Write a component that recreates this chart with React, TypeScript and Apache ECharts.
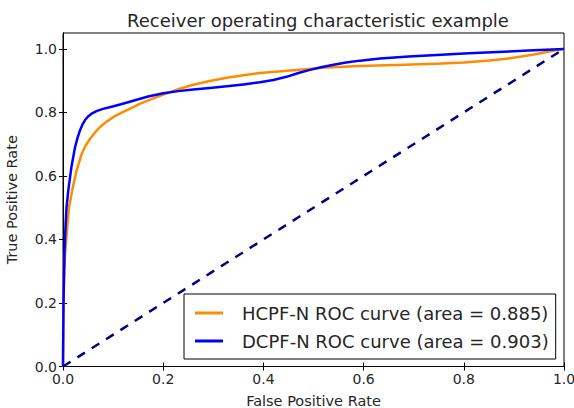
import React, { useEffect, useRef } from "react";
import * as echarts from "echarts";

const titleText = "Receiver operating characteristic example";
const xName = "False Positive Rate";
const yName = "True Positive Rate";
const tickValues = [0, 0.2, 0.4, 0.6, 0.8, 1.0];

const hcpfName = "HCPF-N ROC curve (area = 0.885)";
const hcpfPoints: [number, number][] = [
  [0, 0], [0.0005, 0.15], [0.002, 0.28], [0.004, 0.35], [0.007, 0.41], [0.012, 0.5],
  [0.019, 0.56], [0.027, 0.616], [0.037, 0.668], [0.045, 0.695], [0.054, 0.717],
  [0.064, 0.737], [0.074, 0.754], [0.087, 0.771], [0.1, 0.785], [0.117, 0.799],
  [0.134, 0.812], [0.152, 0.826], [0.17, 0.838], [0.2, 0.856], [0.23, 0.873],
  [0.26, 0.887], [0.293, 0.899], [0.327, 0.909], [0.36, 0.917], [0.393, 0.924],
  [0.46, 0.933], [0.526, 0.941], [0.593, 0.946], [0.68, 0.95], [0.746, 0.953],
  [0.8, 0.957], [0.846, 0.963], [0.88, 0.968], [0.912, 0.975], [0.94, 0.982],
  [0.965, 0.99], [1, 1],
];

const dcpfName = "DCPF-N ROC curve (area = 0.903)";
const dcpfPoints: [number, number][] = [
  [0, 0], [0.001, 0.2], [0.003, 0.36], [0.005, 0.44], [0.007, 0.5], [0.011, 0.56],
  [0.017, 0.63], [0.024, 0.69], [0.029, 0.72], [0.034, 0.744], [0.039, 0.762],
  [0.044, 0.776], [0.05, 0.787], [0.057, 0.796], [0.068, 0.805], [0.08, 0.811],
  [0.097, 0.818], [0.114, 0.825], [0.13, 0.832], [0.147, 0.84], [0.17, 0.85],
  [0.2, 0.86], [0.23, 0.867], [0.26, 0.872], [0.293, 0.877], [0.327, 0.882],
  [0.36, 0.888], [0.393, 0.895], [0.42, 0.902], [0.446, 0.912], [0.47, 0.924],
  [0.493, 0.934], [0.515, 0.942], [0.54, 0.95], [0.565, 0.957], [0.593, 0.963],
  [0.633, 0.97], [0.69, 0.976], [0.746, 0.981], [0.81, 0.986], [0.879, 0.991],
  [0.94, 0.996], [1, 1],
];

const chancePoints: [number, number][] = [[0, 0], [1, 1]];

const FONT = "DejaVu Sans";
const TXT = "#262626";

export default function App() {
  const ref = useRef<HTMLDivElement>(null);
  useEffect(() => {
    if (!ref.current) return;
    const chart = echarts.init(ref.current, undefined, { renderer: "svg" });
    const tickCommon = {
      show: true,
      inside: true,
      length: 4,
      customValues: tickValues,
      lineStyle: { color: "#000", width: 1 },
    };
    const labelCommon = {
      fontFamily: FONT,
      fontSize: 14,
      color: TXT,
      customValues: tickValues,
      formatter: (v: number) => v.toFixed(1),
    };
    chart.setOption({
      animation: false,
      backgroundColor: "#fff",
      title: {
        text: titleText,
        left: 313,
        textAlign: "center",
        top: 6,
        textStyle: { fontFamily: FONT, fontSize: 18, fontWeight: "normal", color: TXT },
      },
      grid: {
        left: 63,
        top: 33,
        right: 10,
        bottom: 41.5,
        outerBoundsMode: "none",
        containLabel: false,
        show: true,
        borderColor: "#000",
        borderWidth: 1,
        backgroundColor: "transparent",
      },
      legend: {
        orient: "vertical",
        left: 184,
        top: 294,
        padding: [9, 7, 8, 11],
        itemGap: 8,
        itemWidth: 28,
        itemHeight: 3,
        icon: "rect",
        borderColor: "#000",
        borderWidth: 1,
        borderRadius: 0,
        backgroundColor: "#fff",
        data: [hcpfName, dcpfName],
        textStyle: {
          fontFamily: FONT,
          fontSize: 18,
          color: TXT,
          lineHeight: 20,
          padding: [0, 0, 0, 14],
        },
      },
      xAxis: [
        {
          type: "value",
          min: 0,
          max: 1,
          interval: 0.2,
          name: xName,
          nameLocation: "middle",
          nameGap: 27,
          nameTextStyle: { fontFamily: FONT, fontSize: 14.5, color: TXT },
          axisLine: { show: true, lineStyle: { color: "#000" } },
          axisTick: tickCommon,
          axisLabel: { ...labelCommon, margin: 5 },
          splitLine: { show: false },
        },
        {
          type: "value",
          position: "top",
          min: 0,
          max: 1,
          interval: 0.2,
          axisLine: { show: true, lineStyle: { color: "#000" } },
          axisTick: tickCommon,
          axisLabel: { show: false },
          splitLine: { show: false },
        },
      ],
      yAxis: [
        {
          type: "value",
          min: 0,
          max: 1.05,
          name: yName,
          nameLocation: "middle",
          nameRotate: 90,
          nameGap: 44,
          nameTextStyle: { fontFamily: FONT, fontSize: 14.5, color: TXT },
          axisLine: { show: true, lineStyle: { color: "#000" } },
          axisTick: tickCommon,
          axisLabel: { ...labelCommon, margin: 6 },
          splitLine: { show: false },
        },
        {
          type: "value",
          position: "right",
          min: 0,
          max: 1.05,
          axisLine: { show: true, lineStyle: { color: "#000" } },
          axisTick: tickCommon,
          axisLabel: { show: false },
          splitLine: { show: false },
        },
      ],
      series: [
        {
          name: hcpfName,
          type: "line",
          data: hcpfPoints,
          symbol: "none",
          smooth: false,
          color: "#FF8C00",
          lineStyle: { color: "#FF8C00", width: 2.5, join: "round" },
        },
        {
          name: dcpfName,
          type: "line",
          data: dcpfPoints,
          symbol: "none",
          smooth: false,
          color: "#0000FF",
          lineStyle: { color: "#0000FF", width: 2.5, join: "round" },
        },
        {
          name: "chance",
          type: "line",
          data: chancePoints,
          symbol: "none",
          color: "#000080",
          lineStyle: { color: "#000080", width: 2.5, type: [9, 8] },
        },
      ],
    });
    return () => chart.dispose();
  }, []);
  return (
    <div
      ref={ref}
      style={{ position: "fixed", left: 0, top: 0, width: 574, height: 408, background: "#fff" }}
    />
  );
}
